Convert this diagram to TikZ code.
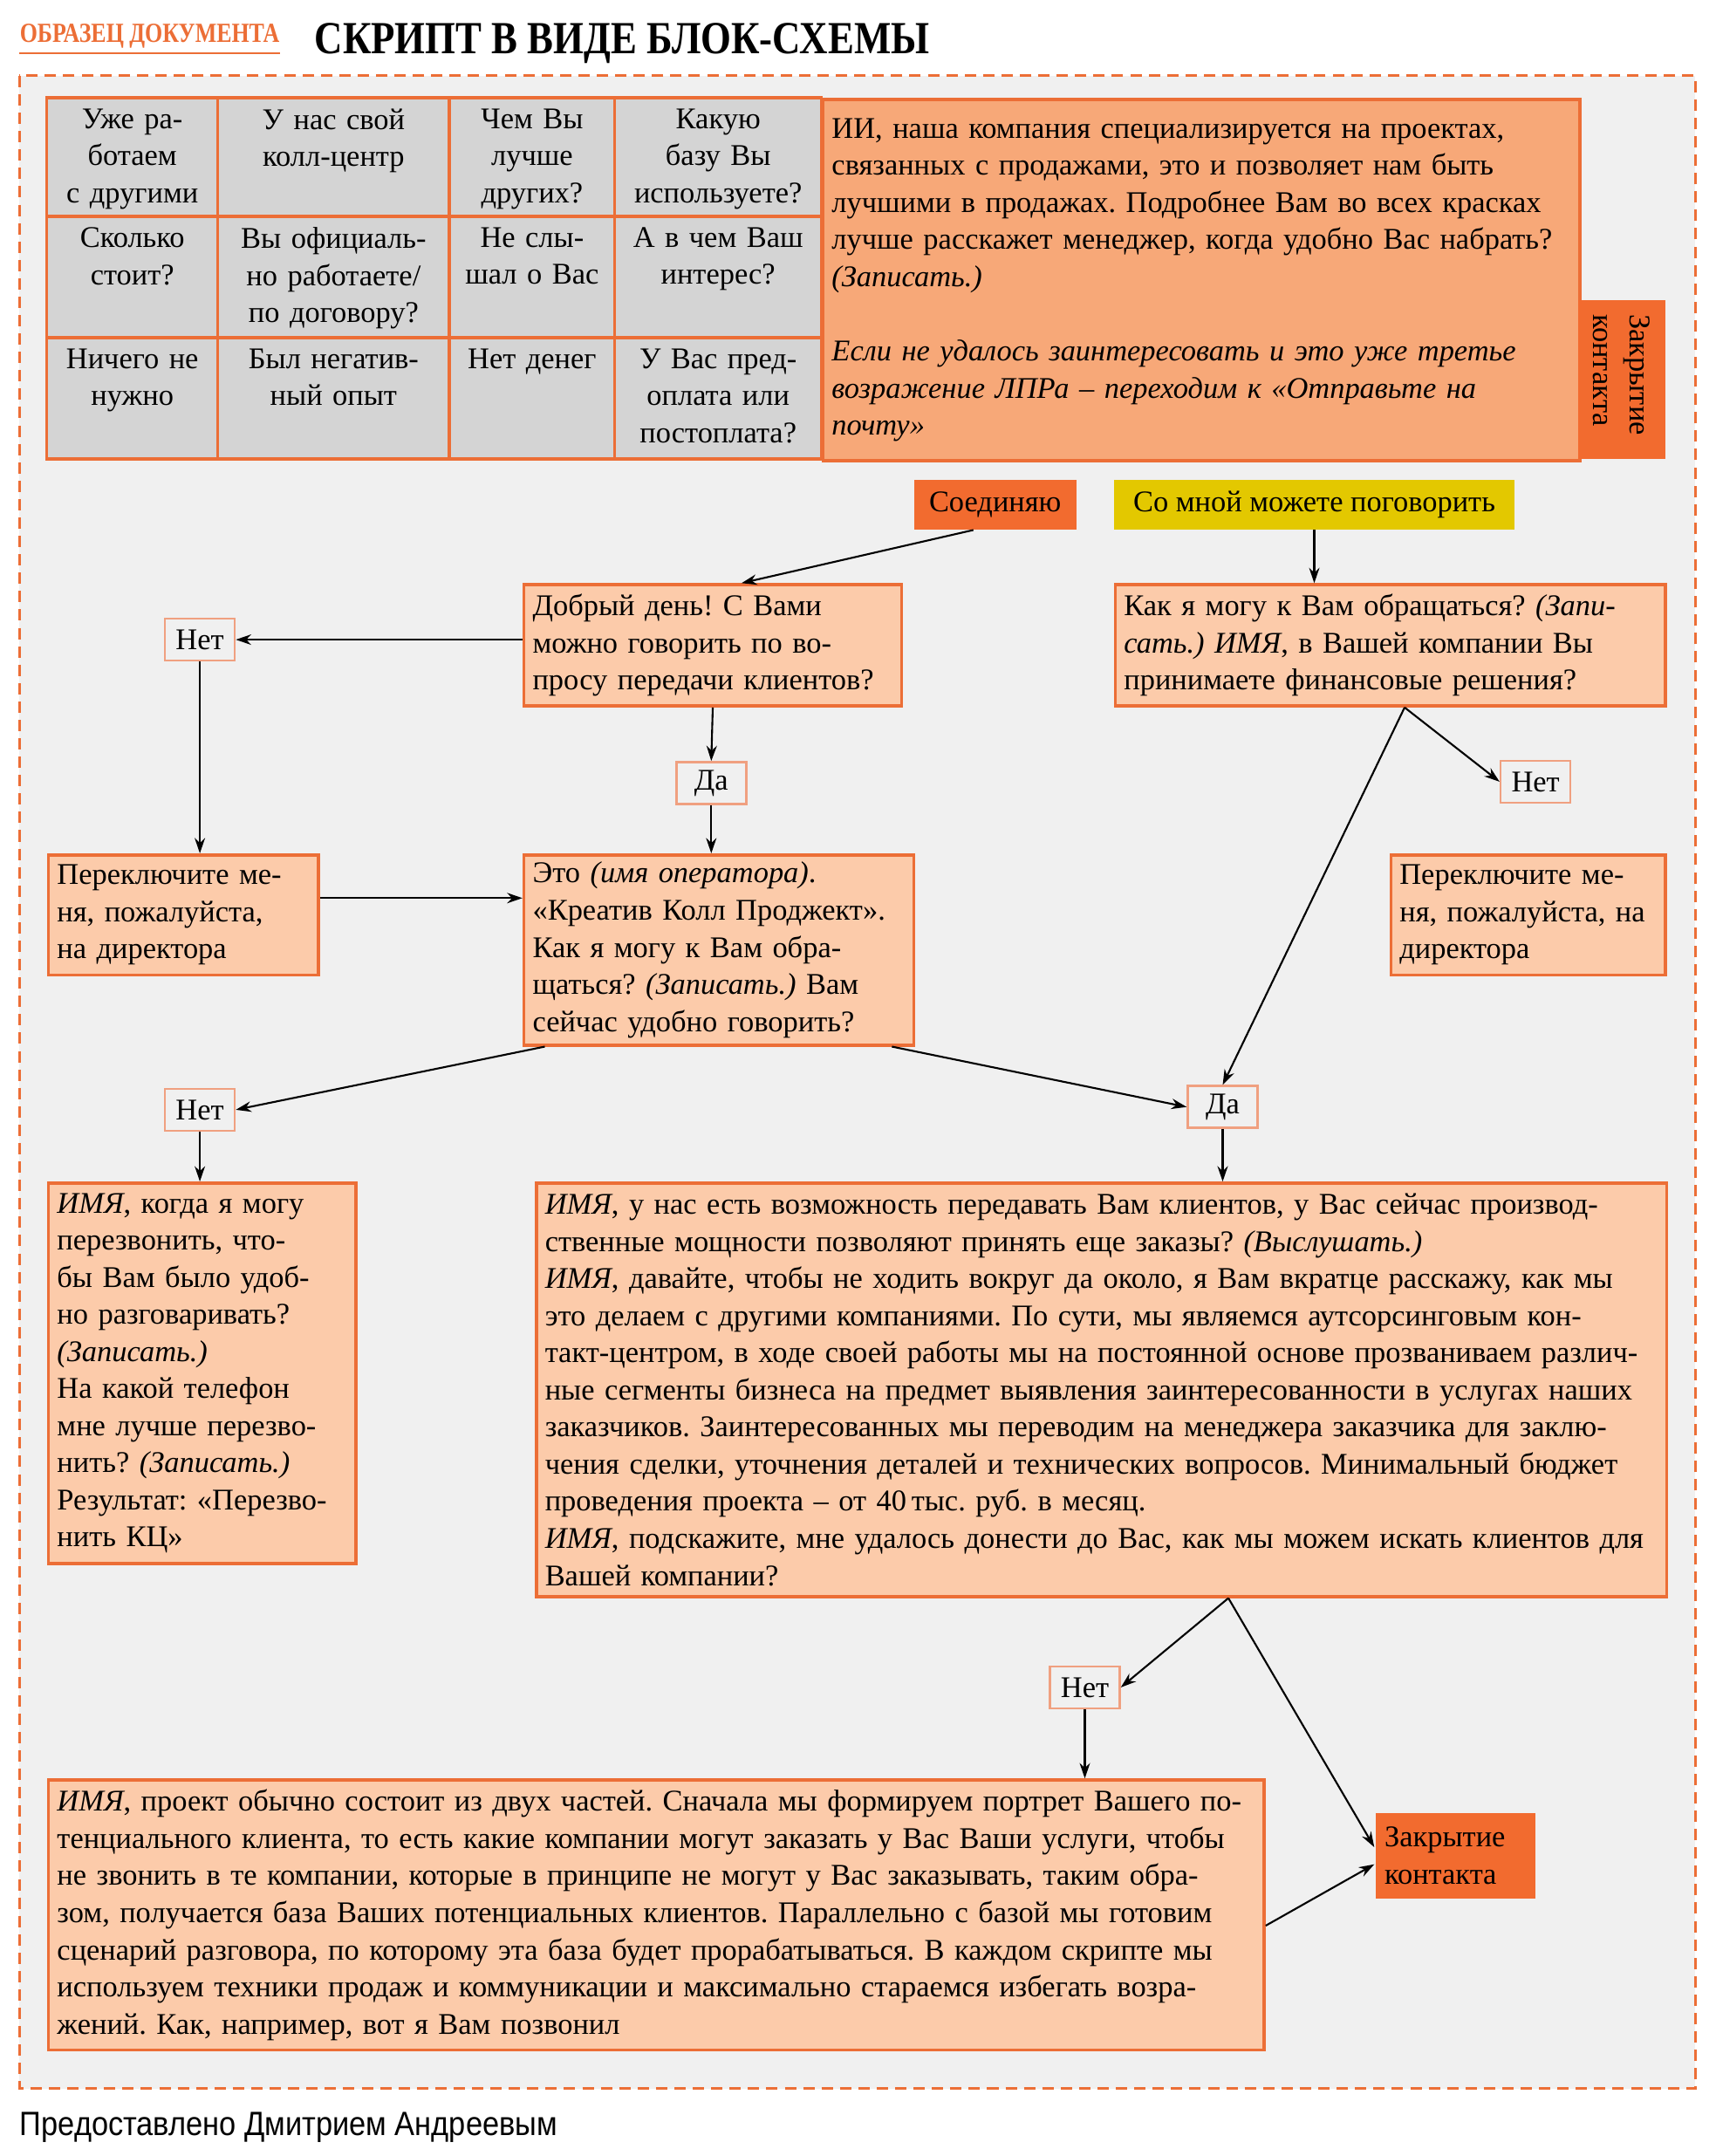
\documentclass[tikz,border=0pt]{standalone}
\usepackage{fontspec}
\usepackage{graphicx}
\setmainfont{Liberation Serif}
\newfontfamily\creditfont{Liberation Sans}
\usetikzlibrary{arrows.meta,calc}
\definecolor{bggray}{HTML}{F0F0F0}
\definecolor{cellgray}{HTML}{D4D4D4}
\definecolor{edgeorange}{HTML}{EC6E36}
\definecolor{peach}{HTML}{FCCBAA}
\definecolor{salmon}{HTML}{F7A878}
\definecolor{deeporange}{HTML}{F26B2F}
\definecolor{mustard}{HTML}{E3C800}
\definecolor{answeredge}{HTML}{F0A080}
\frenchspacing
\newcommand\boxfont{\fontsize{9.8}{12.1}\selectfont}
\tikzset{
  cell/.style={fill=cellgray, draw=edgeorange, line width=1pt},
  celltext/.style={anchor=north, align=center, inner sep=0pt, font=\boxfont},
  script/.style={draw=edgeorange, line width=1pt, fill=peach, anchor=north west,
    align=left, inner xsep=0.1cm, inner ysep=0.05cm, font=\boxfont},
  answer/.style={draw=answeredge, line width=0.7pt, fill=bggray, minimum width=0.8cm,
    minimum height=0.48cm, inner sep=1pt, font=\boxfont},
  flow/.style={-{Stealth[length=5pt,width=3.4pt]}, line width=0.6pt},
}
\begin{document}
\begin{tikzpicture}
    \useasboundingbox (0,0) rectangle (19.67,-24.71);
    % heading
    \node[anchor=base west, inner sep=0pt, text=edgeorange] (sample) at (0.221,-0.49)
      {\scalebox{0.82}[1]{\fontsize{9}{9}\selectfont\bfseries ОБРАЗЕЦ ДОКУМЕНТА}};
    \draw[edgeorange, line width=0.7pt] ([yshift=-1.3pt]sample.south west) -- ([yshift=-1.3pt]sample.south east);
    \node[anchor=base west, inner sep=0pt] (title) at (3.6,-0.616)
      {\scalebox{0.85}[1]{\fontsize{15}{15}\selectfont\bfseries СКРИПТ В~ВИДЕ БЛОК-СХЕМЫ}};
    % dashed frame
    \filldraw[fill=bggray, draw=edgeorange, line width=0.9pt, dash pattern=on 3.7pt off 2.3pt]
      (0.221,-0.869) rectangle (19.434,-23.937);
    % objections table
    \foreach \xa/\xb in {0.537/2.496,2.496/5.151,5.151/7.047,7.047/9.417}
      \foreach \ya/\yb in {-1.122/-2.481,-2.481/-3.871,-3.871/-5.261}
        \filldraw[cell] (\xa,\ya) rectangle (\xb,\yb);
    \node[celltext, text width=1.85cm] (q11) at (1.517,-1.24) {Уже ра-\\ботаем\\с другими};
    \node[celltext, text width=2.55cm] (q12) at (3.824,-1.24) {У нас свой\\колл-центр};
    \node[celltext, text width=1.80cm] (q13) at (6.099,-1.24) {Чем Вы\\лучше\\других?};
    \node[celltext, text width=2.27cm] (q14) at (8.232,-1.24) {Какую\\базу Вы\\используете?};
    \node[celltext, text width=1.85cm] (q21) at (1.517,-2.60) {Сколько\\стоит?};
    \node[celltext, text width=2.55cm] (q22) at (3.824,-2.60) {Вы официаль-\\но работаете/\\по договору?};
    \node[celltext, text width=1.80cm] (q23) at (6.099,-2.60) {Не слы-\\шал о Вас};
    \node[celltext, text width=2.27cm] (q24) at (8.232,-2.60) {А в чем Ваш\\интерес?};
    \node[celltext, text width=1.85cm] (q31) at (1.517,-3.99) {Ничего не\\нужно};
    \node[celltext, text width=2.55cm] (q32) at (3.824,-3.99) {Был негатив-\\ный опыт};
    \node[celltext, text width=1.80cm] (q33) at (6.099,-3.99) {Нет денег};
    \node[celltext, text width=2.27cm] (q34) at (8.232,-3.99) {У Вас пред-\\оплата или\\постоплата?};
    \node[script, fill=salmon, text width=8.474cm, minimum width=8.674cm, minimum height=4.139cm] (answerii) at (9.417,-1.122)
      {ИИ, наша компания специализируется на проектах,\\связанных с продажами, это и позволяет нам быть\\лучшими в продажах. Подробнее Вам во всех красках\\лучше расскажет менеджер, когда удобно Вас набрать?\\\textit{(Записать.)}\\[12.1pt]
       \textit{Если не удалось заинтересовать и это уже третье}\\\textit{возражение ЛПРа – переходим к «Отправьте на}\\\textit{почту»}};
    \node[fill=deeporange, rotate=-90, minimum width=1.817cm, minimum height=0.995cm, text width=1.5cm,
      align=left, inner xsep=0.16cm, font=\boxfont] (closetop) at (18.589,-4.353) {Закрытие\\контакта};
    % call flow
    \node[fill=deeporange, minimum width=1.864cm, minimum height=0.569cm, font=\boxfont] (soed) at (11.407,-5.783) {Соединяю};
    \node[fill=mustard, minimum width=4.598cm, minimum height=0.569cm, font=\boxfont] (somnoy) at (15.065,-5.783) {Со мной можете поговорить};
    \node[script, text width=4.129cm, minimum height=1.39cm] (dobry) at (5.988,-6.683)
      {Добрый день! С~Вами\\можно говорить по во-\\просу передачи клиентов?};
    \node[script, text width=6.104cm, minimum height=1.39cm] (kakya) at (12.766,-6.683)
      {Как я могу к Вам обращаться? \textit{(Запи-}\\\textit{сать.) ИМЯ}, в Вашей компании Вы\\принимаете финансовые решения?};
    \node[answer] (net1) at (2.291,-7.331) {Нет};
    \node[answer] (da1) at (8.153,-8.974) {Да};
    \node[answer] (net2) at (17.601,-8.959) {Нет};
    \node[script, text width=2.897cm, minimum height=1.375cm] (perekl1) at (0.537,-9.78)
      {Переключите ме-\\ня, пожалуйста,\\на директора};
    \node[script, text width=4.271cm, minimum height=2.18cm] (eto) at (5.988,-9.78)
      {Это \textit{(имя оператора)}.\\«Креатив Колл Проджект».\\Как я могу к Вам обра-\\щаться? \textit{(Записать.)} Вам\\сейчас удобно говорить?};
    \node[script, text width=2.944cm, minimum height=1.375cm] (perekl2) at (15.926,-9.78)
      {Переключите ме-\\ня, пожалуйста, на\\директора};
    \node[answer] (net3) at (2.291,-12.719) {Нет};
    \node[answer] (da2) at (14.015,-12.687) {Да};
    \node[script, text width=3.323cm, minimum height=4.361cm] (imya) at (0.537,-13.541)
      {\textit{ИМЯ}, когда я могу\\перезвонить, что-\\бы Вам было удоб-\\но разговаривать?\\\textit{(Записать.)}\\На какой телефон\\мне лучше перезво-\\нить? \textit{(Записать.)}\\Результат: «Перезво-\\нить КЦ»};
    \node[script, text width=12.756cm, minimum height=4.74cm] (pitch) at (6.13,-13.541)
      {\textit{ИМЯ}, у нас есть возможность передавать Вам клиентов, у Вас сейчас производ-\\
       ственные мощности позволяют принять еще заказы? \textit{(Выслушать.)}\\
       \textit{ИМЯ}, давайте, чтобы не ходить вокруг да около, я Вам вкратце расскажу, как мы\\
       это делаем с другими компаниями. По сути, мы являемся аутсорсинговым кон-\\
       такт-центром, в ходе своей работы мы на постоянной основе прозваниваем различ-\\
       ные сегменты бизнеса на предмет выявления заинтересованности в услугах наших\\
       заказчиков. Заинтересованных мы переводим на менеджера заказчика для заклю-\\
       чения сделки, уточнения деталей и технических вопросов. Минимальный бюджет\\
       проведения проекта – от 40\,тыс. руб. в месяц.\\
       \textit{ИМЯ}, подскажите, мне удалось донести до Вас, как мы можем искать клиентов для\\
       Вашей компании?};
    \node[answer] (net4) at (12.435,-19.339) {Нет};
    \node[script, text width=13.736cm, minimum height=3.097cm] (proekt) at (0.537,-20.382)
      {\textit{ИМЯ}, проект обычно состоит из двух частей. Сначала мы формируем портрет Вашего по-\\
       тенциального клиента, то есть какие компании могут заказать у Вас Ваши услуги, чтобы\\
       не звонить в те компании, которые в принципе не могут у Вас заказывать, таким обра-\\
       зом, получается база Ваших потенциальных клиентов. Параллельно с базой мы готовим\\
       сценарий разговора, по которому эта база будет прорабатываться. В каждом скрипте мы\\
       используем техники продаж и коммуникации и максимально стараемся избегать возра-\\
       жений. Как, например, вот я Вам позвонил};
    \node[script, draw=none, fill=deeporange, text width=1.633cm, minimum height=0.98cm] (zakr) at (15.753,-20.761)
      {Закрытие\\контакта};
    % connectors
    \coordinate (kfork) at ($(kakya.south west)!0.526!(kakya.south east)$);
    \coordinate (gfork) at ($(pitch.south west)!0.612!(pitch.south east)$);
    \draw[flow] ($(soed.south)+(-0.25,0)$) -- ($(dobry.north)+(0.33,0)$);
    \draw[flow] (somnoy.south) -- (somnoy.south |- kakya.north);
    \draw[flow] (dobry.west |- net1.east) -- (net1.east);
    \draw[flow] (net1.south) -- (net1.south |- perekl1.north);
    \draw[flow] (dobry.south) -- (da1.north);
    \draw[flow] (da1.south) -- (da1.south |- eto.north);
    \draw[flow] (perekl1.7) -- (perekl1.7 -| eto.west);
    \draw[flow] (kfork) -- (net2.west);
    \draw[flow] (kfork) -- (da2.north);
    \draw[flow] ($(eto.south west)!0.057!(eto.south east)$) -- (net3.east);
    \draw[flow] ($(eto.south west)!0.94!(eto.south east)$) -- (da2.west);
    \draw[flow] (net3.south) -- (net3.south |- imya.north);
    \draw[flow] (da2.south) -- (da2.south |- pitch.north);
    \draw[flow] (gfork) -- (net4.east);
    \draw[flow] (gfork) -- (zakr.174);
    \draw[flow] (net4.south) -- (net4.south |- proekt.north);
    \draw[flow] (proekt.359) -- (zakr.186);
    % credit line
    \node[anchor=base west, inner sep=0pt] (credit) at (0.221,-24.47)
      {\scalebox{0.89}[1]{\creditfont\fontsize{11}{13}\selectfont Предоставлено Дмитрием Андреевым}};
\end{tikzpicture}
\end{document}
